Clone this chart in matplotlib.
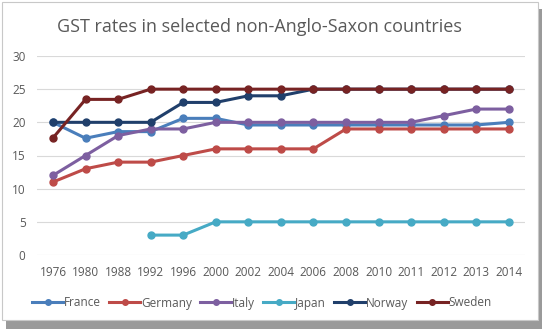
import numpy as np
import matplotlib.pyplot as plt
from matplotlib.patches import Rectangle

plt.rcParams['font.family'] = ['Open Sans', 'DejaVu Sans']

years = ['1976', '1980', '1988', '1992', '1996', '2000', '2002', '2004',
         '2006', '2008', '2010', '2011', '2012', '2013', '2014']
nan = np.nan
france = [20, 17.6, 18.6, 18.6, 20.6, 20.6, 19.6, 19.6, 19.6, 19.6, 19.6, 19.6, 19.6, 19.6, 20]
germany = [11, 13, 14, 14, 15, 16, 16, 16, 16, 19, 19, 19, 19, 19, 19]
italy = [12, 15, 18, 19, 19, 20, 20, 20, 20, 20, 20, 20, 21, 22, 22]
japan = [nan, nan, nan, 3, 3, 5, 5, 5, 5, 5, 5, 5, 5, 5, 5]
norway = [20, 20, 20, 20, 23, 23, 24, 24, 25, 25, 25, 25, 25, 25, 25]
sweden = [17.65, 23.46, 23.46, 25, 25, 25, 25, 25, 25, 25, 25, 25, 25, 25, 25]

series = [('France', france, '#4A7EBB'),
          ('Germany', germany, '#BE4B48'),
          ('Italy', italy, '#7D5FA0'),
          ('Japan', japan, '#46AAC5'),
          ('Norway', norway, '#203F6B'),
          ('Sweden', sweden, '#772323')]

fig = plt.figure(figsize=(5.46, 3.29), dpi=100)
# frame with shadow
fig.patches.append(Rectangle((6 / 546, 0), 536 / 546, 320 / 329, transform=fig.transFigure,
                             facecolor='#9a9a9a', edgecolor='none', zorder=0))
fig.patches.append(Rectangle((2 / 546, 9 / 329), 536 / 546, 318 / 329, transform=fig.transFigure,
                             facecolor='white', edgecolor='#c8c8c8', lw=0.8, zorder=1))

ax = fig.add_axes([36.7 / 546, (329 - 255) / 329, (525 - 36.7) / 546, 199 / 329])
ax.set_zorder(3)
ax.set_facecolor('none')
x = np.arange(len(years))
for name, vals, col in series:
    ax.plot(x, vals, color=col, lw=2.2, marker='o', ms=5, label=name)

ax.set_xlim(-0.5, len(years) - 0.5)
ax.set_ylim(0, 30)
ax.set_yticks(range(0, 31, 5))
ax.set_xticks(x)
ax.set_xticklabels(years)
ax.grid(axis='y', color='#d9d9d9', lw=0.8)
ax.set_axisbelow(True)
for s in ax.spines.values():
    s.set_visible(False)
ax.tick_params(length=0, colors='#595959', labelsize=8.5, pad=8)

fig.text(0.475, 1 - 27 / 329, 'GST rates in selected non-Anglo-Saxon countries',
         ha='center', va='center', fontsize=13, color='#595959', zorder=4)

leg = fig.legend(loc='center', bbox_to_anchor=(0.48, 1 - 303 / 329), ncol=6, frameon=False,
                 fontsize=8.5, labelcolor='#595959', handlelength=2.6, handletextpad=0.1,
                 columnspacing=0.7, markerscale=0.8)
leg.set_zorder(4)

fig.savefig('out.png', dpi=100)
